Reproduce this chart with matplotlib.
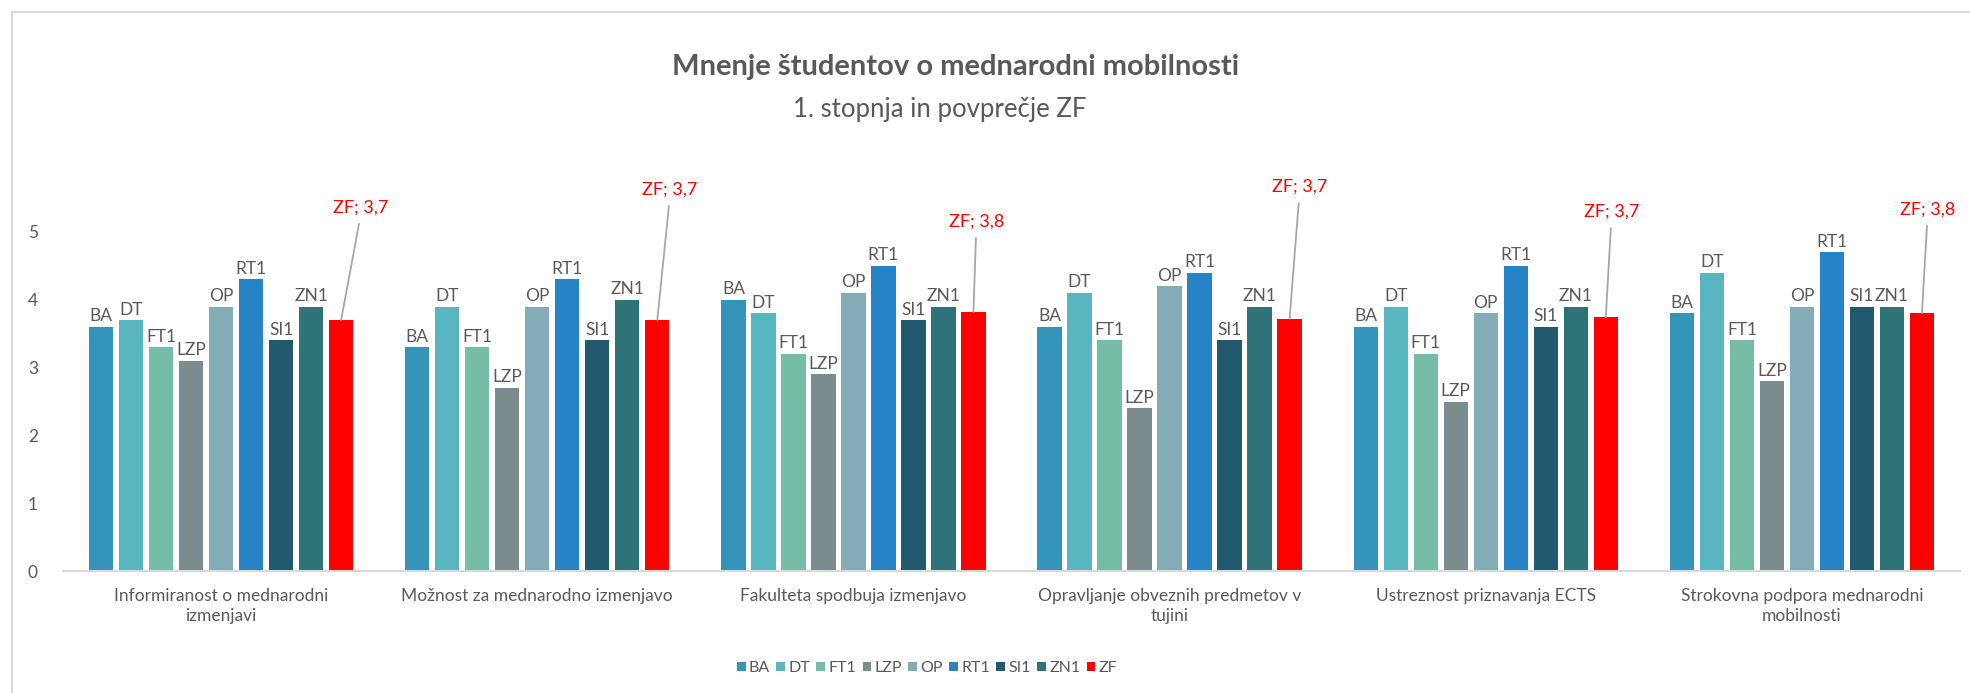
import matplotlib
matplotlib.use("Agg")
import matplotlib.pyplot as plt
from matplotlib.lines import Line2D
import numpy as np

plt.rcParams["font.family"] = ["Lato", "DejaVu Sans"]

GREY = "#595959"

CATEGORIES = [
    "Informiranost o mednarodni\nizmenjavi",
    "Možnost za mednarodno izmenjavo",
    "Fakulteta spodbuja izmenjavo",
    "Opravljanje obveznih predmetov v\ntujini",
    "Ustreznost priznavanja ECTS",
    "Strokovna podpora mednarodni\nmobilnosti",
]
SERIES = ["BA", "DT", "FT1", "LZP", "OP", "RT1", "SI1", "ZN1", "ZF"]

BA = [3.6, 3.3, 4.0, 3.6, 3.6, 3.8]
DT = [3.7, 3.9, 3.8, 4.1, 3.9, 4.4]
FT1 = [3.3, 3.3, 3.2, 3.4, 3.2, 3.4]
LZP = [3.1, 2.7, 2.9, 2.4, 2.5, 2.8]
OP = [3.9, 3.9, 4.1, 4.2, 3.8, 3.9]
RT1 = [4.3, 4.3, 4.5, 4.4, 4.5, 4.7]
SI1 = [3.4, 3.4, 3.7, 3.4, 3.6, 3.9]
ZN1 = [3.9, 4.0, 3.9, 3.9, 3.9, 3.9]
ZF = [3.7, 3.7, 3.82, 3.72, 3.74, 3.8]
VALUES = [BA, DT, FT1, LZP, OP, RT1, SI1, ZN1, ZF]

COLORS = ["#3494BA", "#58B6C0", "#75BDA7", "#7A8C8E", "#84ACB6",
          "#2683C6", "#215A6F", "#2E7377", "#FF0000"]

# where the red ZF callouts sit, offset from bar top (points)
ZF_OFFSETS = [(14, 81), (9, 94), (2, 65), (7, 95), (4, 76), (4, 75)]

fig = plt.figure(figsize=(19.7, 6.93), dpi=100)
fig.patch.set_facecolor("white")
ax = fig.add_axes([63 / 1970, 1 - 571 / 693, 1897 / 1970, 339 / 693])

x = np.arange(len(CATEGORIES))
step, width = 0.0949, 0.077
n = len(SERIES)
for i, (name, vals, col) in enumerate(zip(SERIES, VALUES, COLORS)):
    xs = x + (i - (n - 1) / 2) * step
    ax.bar(xs, vals, width, color=col, label=name, zorder=3)
    for j, (xx, v) in enumerate(zip(xs, vals)):
        if name == "ZF":
            dx, dy = ZF_OFFSETS[j]
            ax.annotate(f"ZF; {v:.1f}".replace(".", ","), (xx, v),
                        xytext=(dx, dy), textcoords="offset points",
                        ha="center", va="center", fontsize=13, color="#FF0000",
                        annotation_clip=False,
                        arrowprops=dict(arrowstyle="-", color="#A6A6A6", lw=1.3,
                                        shrinkA=4, shrinkB=0, relpos=(0.5, 0)))
        else:
            ax.annotate(name, (xx, v), xytext=(0, 4), textcoords="offset points",
                        ha="center", va="baseline", fontsize=12.5, color=GREY,
                        annotation_clip=False)

ax.set_xlim(-0.5, len(CATEGORIES) - 0.5)
ax.set_ylim(0, 5)
ax.set_yticks(range(0, 6))
ax.set_xticks(x)
ax.set_xticklabels(CATEGORIES, fontsize=12.5, color=GREY, linespacing=1.3)
ax.tick_params(axis="y", length=0, pad=18, labelsize=12.5, labelcolor=GREY)
ax.tick_params(axis="x", length=0, pad=12)
for sp in ("top", "right", "left"):
    ax.spines[sp].set_visible(False)
ax.spines["bottom"].set_color("#D9D9D9")
ax.spines["bottom"].set_linewidth(1.5)
ax.spines["bottom"].set_zorder(4)

fig.text(956 / 1970, 1 - 75 / 693, "Mnenje študentov o mednarodni mobilnosti",
         ha="center", va="baseline", fontsize=21, fontweight="bold", color=GREY)
fig.text(940 / 1970, 1 - 117 / 693, "1. stopnja in povprečje ZF",
         ha="center", va="baseline", fontsize=18.5, color=GREY)

fig.legend(loc="center", bbox_to_anchor=(927 / 1970, 1 - 668 / 693), ncol=9,
           frameon=False, fontsize=11.5, handlelength=0.55, handleheight=0.55,
           handletextpad=0.2, columnspacing=0.4, labelcolor=GREY)

# chart-area border (top and left edges visible in the crop)
fig.add_artist(Line2D([12 / 1970, 12 / 1970], [0, 1 - 12 / 693],
                      transform=fig.transFigure, color="#D9D9D9", lw=1.5))
fig.add_artist(Line2D([12 / 1970, 1], [1 - 12 / 693, 1 - 12 / 693],
                      transform=fig.transFigure, color="#D9D9D9", lw=1.5))

fig.savefig("out.png", dpi=100, facecolor="white")
